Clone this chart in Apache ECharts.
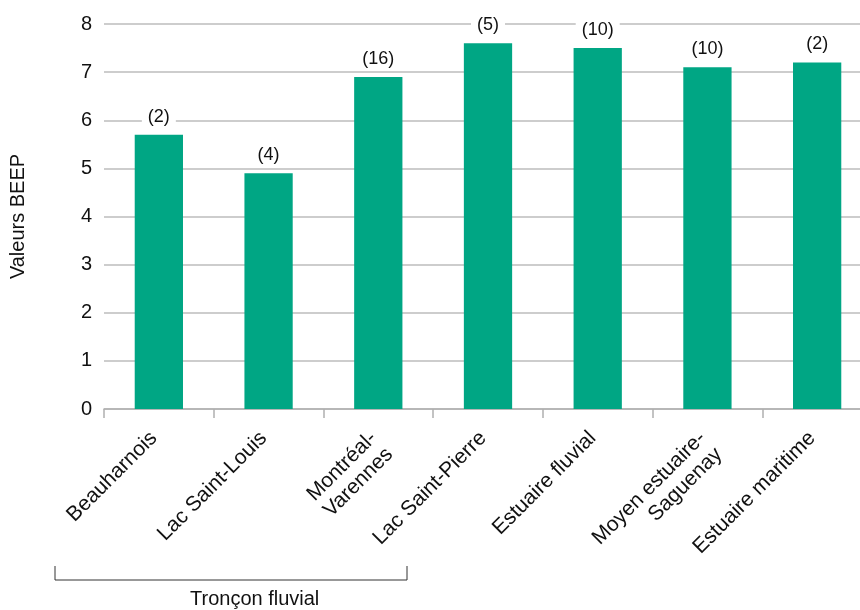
<!DOCTYPE html>
<html>
<head>
<meta charset="utf-8">
<script src="https://cdn.jsdelivr.net/npm/echarts@6/dist/echarts.min.js"></script>
<style>html,body{margin:0;padding:0;background:#fff;overflow:hidden}#c{width:872px;height:610px}</style>
</head>
<body>
<div id="c"></div>
<script>
const categories = ['Beauharnois', 'Lac Saint-Louis', 'Montréal-\nVarennes', 'Lac Saint-Pierre', 'Estuaire fluvial', 'Moyen estuaire-\nSaguenay', 'Estuaire maritime'];
const values = [5.7, 4.9, 6.9, 7.6, 7.5, 7.1, 7.2];
const counts = ['(2)', '(4)', '(16)', '(5)', '(10)', '(10)', '(2)'];
const yTicks = [0, 1, 2, 3, 4, 5, 6, 7, 8];

const chart = echarts.init(document.getElementById('c'));
const font = 'Liberation Sans, Arial, sans-serif';
chart.setOption({
  animation: false,
  grid: { left: 104, right: 0, top: 24, bottom: 201, containLabel: false },
  xAxis: {
    type: 'category',
    data: categories,
    axisLine: { lineStyle: { color: '#b0b0b0', width: 1.5 } },
    axisTick: { show: true, length: 9, lineStyle: { color: '#b0b0b0', width: 1.5 } },
    axisLabel: {
      rotate: 45, margin: 21, color: '#111', fontSize: 21, fontFamily: font, interval: 0, lineHeight: 23,
      padding: [0, 7, 0, 0],
      formatter: v => v.indexOf('\n') >= 0 ? '\n' + v : v
    }
  },
  yAxis: {
    type: 'value',
    min: yTicks[0], max: yTicks[yTicks.length - 1], interval: 1,
    name: 'Valeurs BEEP',
    nameLocation: 'middle',
    nameGap: 76,
    nameTextStyle: { color: '#111', fontSize: 20, fontFamily: font },
    axisLine: { show: false },
    axisTick: { show: false },
    axisLabel: { margin: 12, color: '#111', fontSize: 20, fontFamily: font },
    splitLine: { lineStyle: { color: '#bdbdbd', width: 1.5 } }
  },
  series: [{
    type: 'bar',
    data: values,
    barWidth: '44%',
    itemStyle: { color: '#00a684' },
    label: {
      show: true,
      position: 'top',
      distance: 8,
      formatter: p => counts[p.dataIndex],
      color: '#111',
      fontSize: 18,
      fontFamily: font,
      backgroundColor: '#fff',
      padding: [1, 6]
    }
  }],
  graphic: [
    { type: 'polyline', shape: { points: [[55, 566], [55, 580], [407, 580], [407, 566]] }, style: { stroke: '#333', lineWidth: 1, fill: null } },
    { type: 'text', left: 190, top: 589, style: { text: 'Tronçon fluvial', fontSize: 20, fontFamily: font, fill: '#111' } }
  ]
});
</script>
</body>
</html>
